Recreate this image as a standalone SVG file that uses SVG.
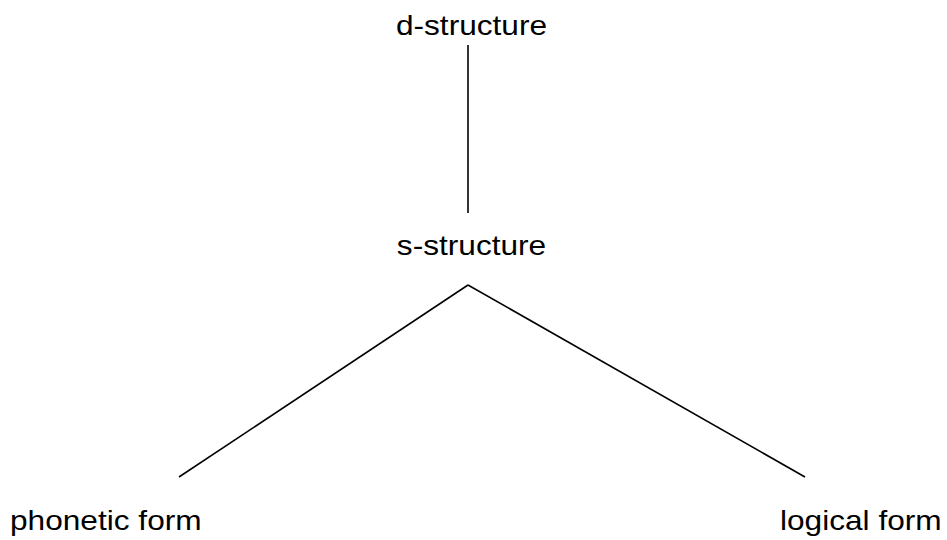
<svg xmlns="http://www.w3.org/2000/svg" width="947" height="540" viewBox="0 0 947 540">
<style>
text{font-family:"Liberation Sans",Arial,sans-serif;font-size:28px;fill:#000}
.e{stroke:#000;stroke-width:1.6;fill:none}
</style>
<rect width="947" height="540" fill="#fff"/>
<g id="connectors">
<line class="e" x1="468" y1="45" x2="468" y2="213"/>
<line class="e" x1="468" y1="285" x2="179" y2="477"/>
<line class="e" x1="468" y1="285" x2="805" y2="477"/>
</g>
<g id="d-structure"><text transform="translate(471.5,35) scale(1.13,1)" text-anchor="middle">d-structure</text></g>
<g id="s-structure"><text transform="translate(471.5,255) scale(1.13,1)" text-anchor="middle">s-structure</text></g>
<g id="phonetic-form"><text transform="translate(10,530) scale(1.13,1)">phonetic form</text></g>
<g id="logical-form"><text transform="translate(780,530) scale(1.13,1)">logical form</text></g>
</svg>
